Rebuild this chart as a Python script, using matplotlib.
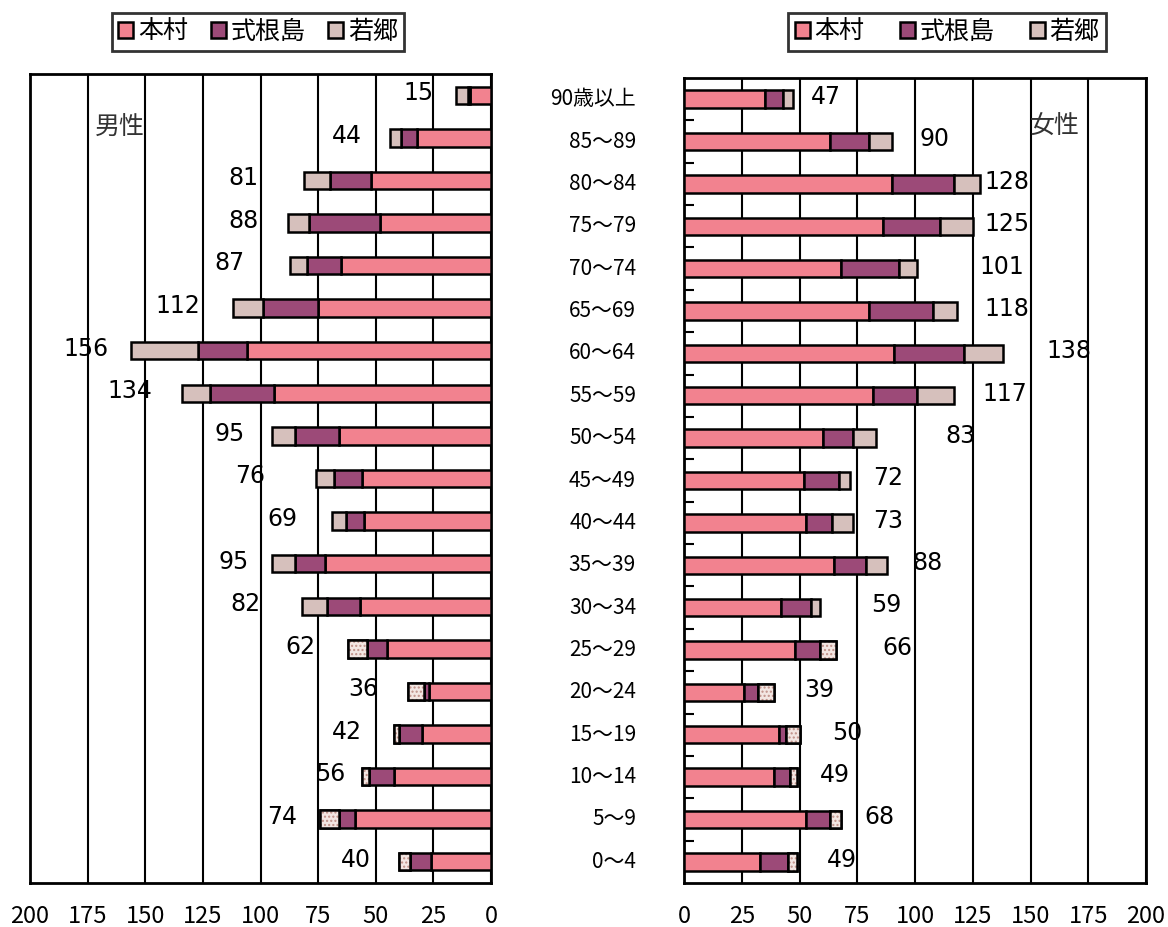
import matplotlib
matplotlib.use("Agg")
import matplotlib.pyplot as plt
import numpy as np

plt.rcParams['font.family'] = ['Noto Sans CJK JP', 'DejaVu Sans']

# age groups, top to bottom
ages = ["90歳以上", "85～89", "80～84", "75～79", "70～74", "65～69", "60～64",
        "55～59", "50～54", "45～49", "40～44", "35～39", "30～34", "25～29",
        "20～24", "15～19", "10～14", "5～9", "0～4"]
areas = ["本村", "式根島", "若郷"]

# men
male_honson = [9, 32, 52, 48, 65, 75, 106, 94, 66, 56, 55, 72, 57, 45, 27, 30, 42, 59, 26]
male_shikine = [1, 7, 18, 31, 15, 24, 21, 28, 19, 12, 8, 13, 14, 9, 2, 10, 11, 7, 9]
male_wakago = [5, 5, 11, 9, 7, 13, 29, 12, 10, 8, 6, 10, 11, 8, 7, 2, 3, 8, 5]
male_total = [15, 44, 81, 88, 87, 112, 156, 134, 95, 76, 69, 95, 82, 62, 36, 42, 56, 74, 40]

# women
female_honson = [35, 63, 90, 86, 68, 80, 91, 82, 60, 52, 53, 65, 42, 48, 26, 41, 39, 53, 33]
female_shikine = [8, 17, 27, 25, 25, 28, 30, 19, 13, 15, 11, 14, 13, 11, 6, 3, 7, 10, 12]
female_wakago = [4, 10, 11, 14, 8, 10, 17, 16, 10, 5, 9, 9, 4, 7, 7, 6, 3, 5, 4]
female_total = [47, 90, 128, 125, 101, 118, 138, 117, 83, 72, 73, 88, 59, 66, 39, 50, 49, 68, 49]

# where the total labels sit, as a gap beyond the bar end (chart units)
gap_m = [10, 12, 20, 13, 20, 14, 10, 13, 12, 22, 15, 10, 18, 14, 13, 14, 7, 10, 12]
gap_f = [8, 12, 2, 5, 27, 12, 19, 12, 30, 10, 9, 11, 22, 20, 13, 14, 10, 10, 13]

colors = ["#F2828F", "#9C4A78", "#D6C0BC"]
n_young = 6  # bottom rows drawn with a dotted 若郷 segment

fig = plt.figure(figsize=(11.68, 9.27), dpi=100)
ax_m = fig.add_axes([30 / 1168, 44 / 927, 461 / 1168, 809 / 927])
ax_f = fig.add_axes([684 / 1168, 44 / 927, 462 / 1168, 805 / 927])

y = np.arange(len(ages))[::-1]
h = 0.41


def draw_side(ax, series, totals, gaps, right_side):
    left = np.zeros(len(ages))
    handles = []
    for k, vals in enumerate(series):
        vals = np.array(vals, dtype=float)
        b = ax.barh(y, vals, height=h, left=left, color=colors[k],
                    edgecolor="black", linewidth=1.8, zorder=3)
        if k == 2:
            # dotted fill for the younger rows
            young = y < n_young
            ax.barh(y[young], vals[young], height=h, left=left[young],
                    color="#F3E6E2", edgecolor="#C09088", linewidth=0,
                    hatch="....", zorder=3.5)
            ax.barh(y[young], vals[young], height=h, left=left[young],
                    fill=False, edgecolor="black", linewidth=1.8, zorder=4)
        handles.append(b)
        left = left + vals
    for yi, tot, g in zip(y, totals, gaps):
        ax.text(tot + g, yi + 0.05, str(tot), ha="left" if right_side else "right",
                va="center", fontsize=17, family="DejaVu Sans", zorder=5)
    ax.set_ylim(-0.5, len(ages) - 0.5)
    ax.set_xticks(np.arange(0, 201, 25))
    ax.grid(axis="x", color="black", linewidth=1.5, zorder=1)
    ax.set_axisbelow(True)
    for s in ax.spines.values():
        s.set_linewidth(2)
    ax.tick_params(axis="x", length=0, pad=16, labelsize=17)
    return handles


handles = draw_side(ax_m, [male_honson, male_shikine, male_wakago], male_total, gap_m, False)
ax_m.set_xlim(200, 0)
ax_m.set_yticks([])
ax_m.text(0.141, 0.934, "男性", transform=ax_m.transAxes, fontsize=18,
          ha="left", va="center", color="#333333")

draw_side(ax_f, [female_honson, female_shikine, female_wakago], female_total, gap_f, True)
ax_f.set_xlim(0, 200)
ax_f.set_yticks(np.arange(len(ages) - 1) + 0.5)
ax_f.set_yticklabels([])
ax_f.tick_params(axis="y", direction="in", length=7, width=1.5)
ax_f.text(0.749, 0.939, "女性", transform=ax_f.transAxes, fontsize=18,
          ha="left", va="center", color="#333333")

# age labels between the two panels
for yi, lab in zip(y, ages):
    ax_f.text(-48 / 462, yi, lab, transform=ax_f.get_yaxis_transform(),
              ha="right", va="center", fontsize=15)

for cx, colsp in ((258 / 1168, 0.9), (947 / 1168, 1.4)):
    leg = fig.legend(handles, areas, loc="center", bbox_to_anchor=(cx, 1 - 32 / 927),
                     ncol=3, fontsize=18, frameon=True, fancybox=False,
                     edgecolor="black", handlelength=0.6, handleheight=0.6,
                     handletextpad=0.2, columnspacing=colsp, borderpad=0.25)
    leg.get_frame().set_linewidth(2)

fig.savefig("out.png", dpi=100)
